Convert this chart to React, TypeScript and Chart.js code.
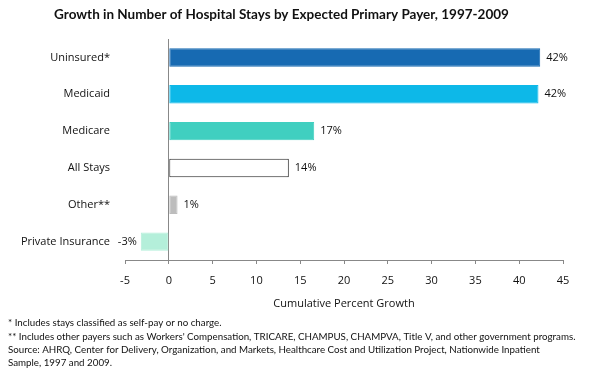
import React, { useEffect, useRef } from "react";
import { Chart, registerables } from "chart.js";

Chart.register(...registerables);

const categories = ["Uninsured*", "Medicaid", "Medicare", "All Stays", "Other**", "Private Insurance"];
const growthValues = [42.4, 42.2, 16.6, 13.7, 1.0, -3.2];
const valueLabels = ["42%", "42%", "17%", "14%", "1%", "-3%"];
const barColors = ["#176AB2", "#0DB8E8", "#40CFC0", "#FFFFFF", "#BDBDBD", "#B4EFDA"];
const barBorders = ["#176AB2", "#0DB8E8", "#40CFC0", "#222222", "#BDBDBD", "#B4EFDA"];
const xTicksMin = -5;
const xTicksMax = 45;
const xTickStep = 5;

const titleText = "Growth in Number of Hospital Stays by Expected Primary Payer, 1997-2009";
const xAxisTitle = "Cumulative Percent Growth";
const footnotes = [
  "* Includes stays classified as self-pay or no charge.",
  "** Includes other payers such as Workers' Compensation, TRICARE, CHAMPUS, CHAMPVA, Title V, and other government programs.",
  "Source: AHRQ, Center for Delivery, Organization, and Markets, Healthcare Cost and Utilization Project, Nationwide Inpatient",
  "Sample, 1997 and 2009.",
];

const FONT = "Lato, 'Open Sans', sans-serif";
const AXIS_FONT = "'Open Sans', Lato, sans-serif";

const valueLabelPlugin = {
  id: "valueLabels",
  afterDatasetsDraw(chart: any) {
    const ctx = chart.ctx;
    const meta = chart.getDatasetMeta(0);
    ctx.save();
    ctx.font = `11px ${AXIS_FONT}`;
    ctx.fillStyle = "#111";
    ctx.textBaseline = "middle";
    meta.data.forEach((bar: any, i: number) => {
      const v = growthValues[i];
      if (v >= 0) {
        ctx.textAlign = "left";
        ctx.fillText(valueLabels[i], bar.x + 6, bar.y);
      } else {
        ctx.textAlign = "right";
        ctx.fillText(valueLabels[i], bar.x - 4, bar.y);
      }
    });
    ctx.restore();
  },
};

const footnotePlugin = {
  id: "footnotes",
  afterDraw(chart: any) {
    const ctx = chart.ctx;
    ctx.save();
    ctx.font = `9.75px ${FONT}`;
    ctx.fillStyle = "#111";
    ctx.textAlign = "left";
    ctx.textBaseline = "middle";
    const ys = [323, 337, 350, 363];
    footnotes.forEach((t, i) => ctx.fillText(t, 8, ys[i]));
    ctx.restore();
  },
};

export default function App() {
  const ref = useRef<HTMLCanvasElement>(null);
  useEffect(() => {
    if (!ref.current) return;
    const chart = new Chart(ref.current, {
      type: "bar",
      data: {
        labels: categories,
        datasets: [
          {
            data: growthValues,
            backgroundColor: barColors,
            borderColor: barBorders,
            borderWidth: 1,
            borderSkipped: false,
            barPercentage: 0.5,
            categoryPercentage: 1,
          },
        ],
      },
      options: {
        indexAxis: "y",
        responsive: false,
        animation: false,
        layout: { padding: { left: 0, right: 28, top: 0, bottom: 61 } },
        plugins: {
          legend: { display: false },
          tooltip: { enabled: false },
          title: {
            display: true,
            text: titleText,
            color: "#111",
            font: { family: FONT, size: 13.5, weight: "bold" },
            padding: { top: 7, bottom: 15.8 },
          },
        },
        scales: {
          x: {
            min: xTicksMin,
            max: xTicksMax,
            ticks: {
              stepSize: xTickStep,
              color: "#111",
              font: { family: AXIS_FONT, size: 11 },
              padding: 10,
            },
            grid: {
              color: (c: any) => (c.tick && c.tick.value === 0 ? "#888" : "rgba(0,0,0,0)"),
              tickColor: "#888",
              tickLength: 4,
            },
            border: { display: true, color: "#888" },
            title: {
              display: true,
              text: xAxisTitle,
              color: "#111",
              font: { family: AXIS_FONT, size: 11 },
              padding: { top: 9, bottom: 0 },
            },
            afterFit: (scale: any) => {
              scale.height = 50;
            },
          },
          y: {
            ticks: {
              color: "#111",
              font: { family: AXIS_FONT, size: 11 },
              padding: 15,
            },
            grid: { display: false, drawTicks: false },
            border: { display: false },
            afterFit: (scale: any) => {
              scale.width = 125;
            },
          },
        },
      },
      plugins: [valueLabelPlugin, footnotePlugin],
    } as any);
    return () => chart.destroy();
  }, []);
  return (
    <div style={{ position: "absolute", left: 0, top: 0, width: 591, height: 371, background: "#fff" }}>
      <canvas ref={ref} width={591} height={371} />
    </div>
  );
}
